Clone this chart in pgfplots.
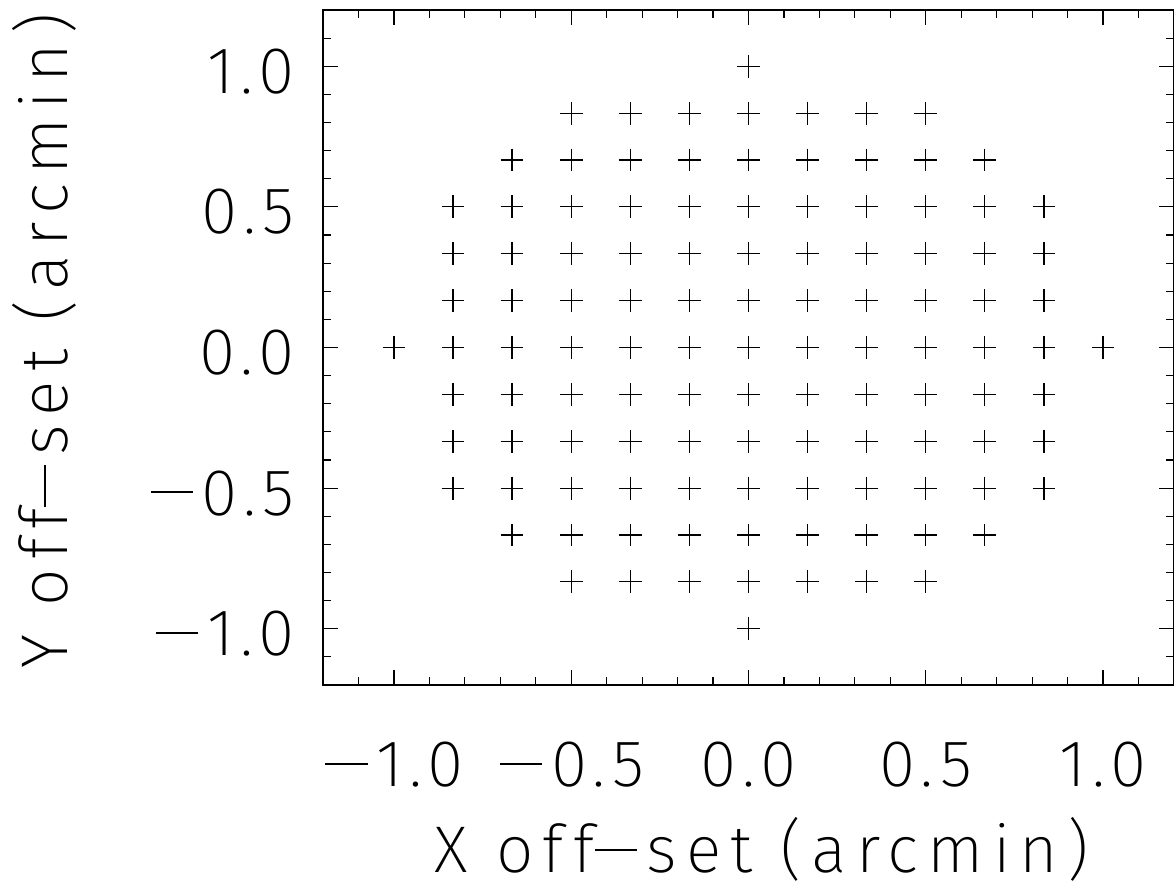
\documentclass[border=0pt]{standalone}
\usepackage{fontspec}
\setmainfont{Fira Sans}[UprightFont=* ExtraLight, LetterSpace=9]
\newfontfamily\labfont{Fira Sans}[UprightFont=* ExtraLight, LetterSpace=14]
\usepackage{pgfplots}
\pgfplotsset{compat=1.18}
\newcommand{\bigf}{\fontsize{33}{40}\selectfont}
\newcommand{\mn}{\kern0.02em\rule[0.33em]{0.64em}{0.028em}\kern0.14em}
\begin{document}
\begin{tikzpicture}
\useasboundingbox (-161.5pt,-103.5pt) rectangle (425.5pt,342.5pt);
\begin{axis}[
  at={(0,0)}, anchor=south west,
  scale only axis, width=425.5pt, height=337.5pt,
  xmin=-1.2, xmax=1.2, ymin=-1.2, ymax=1.2,
  xtick={-1,-0.5,0,0.5,1}, ytick={-1,-0.5,0,0.5,1},
  xticklabels={\mn1.0,\mn0.5,0.0,0.5,1.0},
  yticklabels={\mn1.0,\mn0.5,0.0,0.5,1.0},
  minor xtick={-1.1,-0.9,-0.8,-0.7,-0.6,-0.4,-0.3,-0.2,-0.1,0.1,0.2,0.3,0.4,0.6,0.7,0.8,0.9,1.1},
  minor ytick={-1.1,-0.9,-0.8,-0.7,-0.6,-0.4,-0.3,-0.2,-0.1,0.1,0.2,0.3,0.4,0.6,0.7,0.8,0.9,1.1},
  tick align=inside, major tick length=7.5pt, minor tick length=3.8pt,
  axis line style={line width=0.6pt, black},
  every tick/.style={line width=0.6pt, black},
  xticklabel style={anchor=base, yshift=-51pt, inner sep=0pt, font=\bigf},
  yticklabel style={anchor=base east, xshift=-14pt, yshift=-13.5pt, inner sep=0pt, font=\bigf},
  xlabel={X off\mn set (arcmin)},
  ylabel={Y off\mn set (arcmin)},
  xlabel style={at={([yshift=-94pt,xshift=6.75pt]rel axis cs:0.5,0)}, anchor=base, inner sep=0pt, font=\labfont\bigf},
  ylabel style={at={([xshift=-127.5pt]rel axis cs:0,0.51)}, anchor=base, rotate=0, inner sep=0pt, font=\labfont\bigf},
]
\addplot[only marks, mark=+, mark size=5.7pt, black, mark options={line width=0.6pt}] table[row sep=\\]{
x y \\
0 1 \\
-0.5 0.8333 \\ -0.3333 0.8333 \\ -0.1667 0.8333 \\ 0 0.8333 \\ 0.1667 0.8333 \\ 0.3333 0.8333 \\ 0.5 0.8333 \\
-0.6667 0.6667 \\ -0.5 0.6667 \\ -0.3333 0.6667 \\ -0.1667 0.6667 \\ 0 0.6667 \\ 0.1667 0.6667 \\ 0.3333 0.6667 \\ 0.5 0.6667 \\ 0.6667 0.6667 \\
-0.8333 0.5 \\ -0.6667 0.5 \\ -0.5 0.5 \\ -0.3333 0.5 \\ -0.1667 0.5 \\ 0 0.5 \\ 0.1667 0.5 \\ 0.3333 0.5 \\ 0.5 0.5 \\ 0.6667 0.5 \\ 0.8333 0.5 \\
-0.8333 0.3333 \\ -0.6667 0.3333 \\ -0.5 0.3333 \\ -0.3333 0.3333 \\ -0.1667 0.3333 \\ 0 0.3333 \\ 0.1667 0.3333 \\ 0.3333 0.3333 \\ 0.5 0.3333 \\ 0.6667 0.3333 \\ 0.8333 0.3333 \\
-0.8333 0.1667 \\ -0.6667 0.1667 \\ -0.5 0.1667 \\ -0.3333 0.1667 \\ -0.1667 0.1667 \\ 0 0.1667 \\ 0.1667 0.1667 \\ 0.3333 0.1667 \\ 0.5 0.1667 \\ 0.6667 0.1667 \\ 0.8333 0.1667 \\
-1 0 \\ -0.8333 0 \\ -0.6667 0 \\ -0.5 0 \\ -0.3333 0 \\ -0.1667 0 \\ 0 0 \\ 0.1667 0 \\ 0.3333 0 \\ 0.5 0 \\ 0.6667 0 \\ 0.8333 0 \\ 1 0 \\
-0.8333 -0.1667 \\ -0.6667 -0.1667 \\ -0.5 -0.1667 \\ -0.3333 -0.1667 \\ -0.1667 -0.1667 \\ 0 -0.1667 \\ 0.1667 -0.1667 \\ 0.3333 -0.1667 \\ 0.5 -0.1667 \\ 0.6667 -0.1667 \\ 0.8333 -0.1667 \\
-0.8333 -0.3333 \\ -0.6667 -0.3333 \\ -0.5 -0.3333 \\ -0.3333 -0.3333 \\ -0.1667 -0.3333 \\ 0 -0.3333 \\ 0.1667 -0.3333 \\ 0.3333 -0.3333 \\ 0.5 -0.3333 \\ 0.6667 -0.3333 \\ 0.8333 -0.3333 \\
-0.8333 -0.5 \\ -0.6667 -0.5 \\ -0.5 -0.5 \\ -0.3333 -0.5 \\ -0.1667 -0.5 \\ 0 -0.5 \\ 0.1667 -0.5 \\ 0.3333 -0.5 \\ 0.5 -0.5 \\ 0.6667 -0.5 \\ 0.8333 -0.5 \\
-0.6667 -0.6667 \\ -0.5 -0.6667 \\ -0.3333 -0.6667 \\ -0.1667 -0.6667 \\ 0 -0.6667 \\ 0.1667 -0.6667 \\ 0.3333 -0.6667 \\ 0.5 -0.6667 \\ 0.6667 -0.6667 \\
-0.5 -0.8333 \\ -0.3333 -0.8333 \\ -0.1667 -0.8333 \\ 0 -0.8333 \\ 0.1667 -0.8333 \\ 0.3333 -0.8333 \\ 0.5 -0.8333 \\
0 -1 \\
};
\end{axis}
\end{tikzpicture}
\end{document}
